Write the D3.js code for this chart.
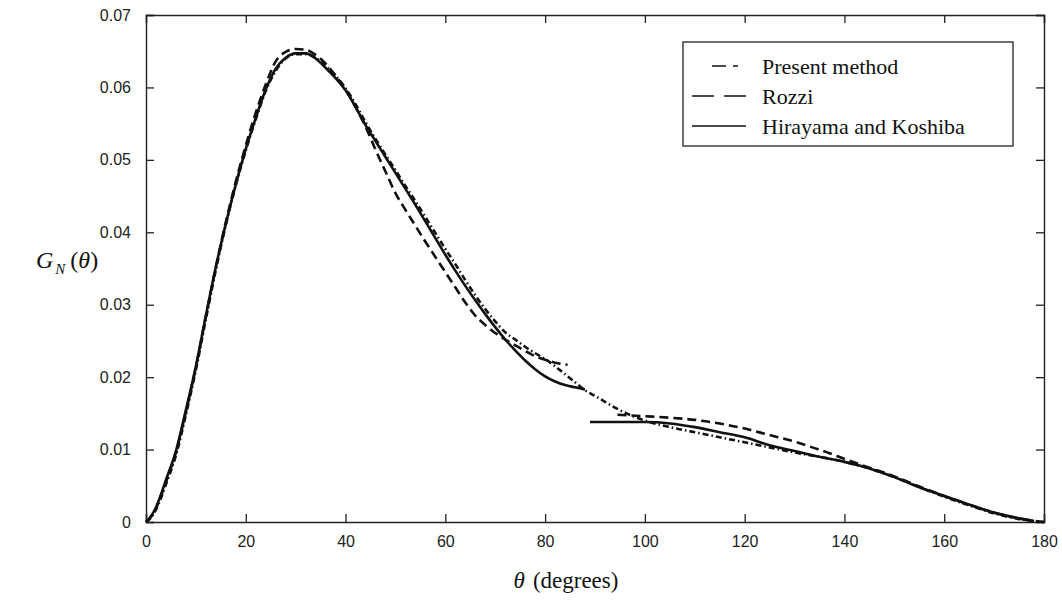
<!DOCTYPE html>
<html>
<head>
<meta charset="utf-8">
<script src="https://cdn.jsdelivr.net/npm/d3@7"></script>
<style>
    body { margin: 0; background: #fff; }
    svg { display: block; }
</style>
</head>
<body>
<div id="chart"></div>
<script>
'use strict';

// theta in degrees, G_N(theta)
const presentMethod = [
    [0, 0], [1, 0.0006], [2, 0.0017], [3, 0.0033], [4, 0.0052], [6, 0.0092],
    [8, 0.0148], [10, 0.021], [12, 0.028], [14, 0.0348], [16, 0.041], [18, 0.0465],
    [20, 0.0513], [22, 0.0556], [24, 0.0595], [26, 0.0623], [28, 0.064], [30, 0.0646],
    [32, 0.0646], [34, 0.0641], [36, 0.063], [38, 0.0616], [40, 0.0599], [42, 0.0577],
    [44, 0.0552], [46, 0.0529], [48, 0.0507], [50, 0.0486], [52, 0.0464], [54, 0.0443],
    [56, 0.0421], [58, 0.0399], [60, 0.0377], [62, 0.0356], [64, 0.0334], [66, 0.0313],
    [68, 0.0294], [70, 0.0277], [72, 0.0262], [74, 0.0252], [76, 0.0242], [78, 0.0233],
    [80, 0.0225], [82, 0.0215], [84, 0.0204], [86, 0.0193], [88, 0.0182], [90, 0.0174],
    [92, 0.0166], [94, 0.0158], [96, 0.0151], [98, 0.0145], [100, 0.014], [105, 0.0131],
    [110, 0.0124], [115, 0.0117], [120, 0.011], [125, 0.0103], [130, 0.0096], [135, 0.009],
    [140, 0.0083], [145, 0.0074], [150, 0.0062], [155, 0.0048], [160, 0.0035], [165, 0.0023],
    [170, 0.0012], [175, 0.0004], [180, 0]
];

const rozziLow = [
    [0, 0], [1, 0.0007], [2, 0.0019], [3, 0.0036], [4, 0.0055], [6, 0.0096],
    [8, 0.0152], [10, 0.0214], [12, 0.0284], [14, 0.0352], [16, 0.0414], [18, 0.047],
    [20, 0.052], [22, 0.0565], [24, 0.0604], [26, 0.0636], [28, 0.0649], [30, 0.0653],
    [32, 0.0652], [34, 0.0645], [36, 0.0633], [38, 0.0616], [40, 0.0597], [42, 0.0573],
    [44, 0.0546], [46, 0.0514], [48, 0.0484], [50, 0.0454], [52, 0.0431], [54, 0.0409],
    [56, 0.0387], [58, 0.0366], [60, 0.0345], [62, 0.0324], [64, 0.0303], [66, 0.0285],
    [68, 0.0272], [70, 0.0261], [72, 0.0252], [74, 0.0244], [76, 0.0236], [78, 0.0229],
    [80, 0.0224], [82, 0.022], [84.5, 0.0217]
];

const rozziHigh = [
    [94.5, 0.0148], [100, 0.0146], [105, 0.0144], [110, 0.0141], [115, 0.0136], [120, 0.0129],
    [125, 0.012], [130, 0.0111], [134, 0.0102], [137, 0.0095], [140, 0.0087], [145, 0.0075],
    [150, 0.0063], [155, 0.0049], [160, 0.0036], [165, 0.0024], [170, 0.0013], [175, 0.0005],
    [180, 0]
];

const hirayamaLow = [
    [0, 0], [1, 0.0008], [2, 0.002], [3, 0.0038], [4, 0.0058], [6, 0.0098],
    [8, 0.0155], [10, 0.0215], [12, 0.0285], [14, 0.0352], [16, 0.0412], [18, 0.0466],
    [20, 0.0515], [22, 0.0558], [24, 0.0597], [26, 0.0626], [28, 0.0641], [30, 0.0647],
    [32, 0.0647], [34, 0.064], [36, 0.0627], [38, 0.0613], [40, 0.0596], [42, 0.0573],
    [44, 0.0548], [46, 0.0526], [48, 0.0504], [50, 0.0482], [52, 0.046], [54, 0.0438],
    [56, 0.0415], [58, 0.0392], [60, 0.0369], [62, 0.0347], [64, 0.0326], [66, 0.0306],
    [68, 0.0287], [70, 0.0269], [72, 0.0252], [74, 0.0237], [76, 0.0223], [78, 0.0211],
    [80, 0.0201], [82, 0.0194], [84, 0.0189], [86, 0.0186], [88, 0.0183]
];

const hirayamaHigh = [
    [89, 0.0138], [95, 0.0138], [100, 0.0138], [105, 0.0136], [110, 0.0131], [115, 0.0124],
    [120, 0.0117], [125, 0.0106], [130, 0.0098], [135, 0.009], [140, 0.0083], [145, 0.0074],
    [150, 0.0062], [155, 0.0048], [160, 0.0036], [165, 0.0024], [170, 0.0013], [175, 0.0005],
    [178, 0.0001]
];

const xTicks = [0, 20, 40, 60, 80, 100, 120, 140, 160, 180];
const yTicks = [0, 0.01, 0.02, 0.03, 0.04, 0.05, 0.06, 0.07];

const legendItems = [
    { label: 'Present method', dash: '0,20,14,7,5,40' },
    { label: 'Rozzi', dash: '22,10' },
    { label: 'Hirayama and Koshiba', dash: null }
];

function buildChart() {

    const width = 1062;
    const height = 605;

    const left = 146;
    const right = 1044;
    const top = 15;
    const bottom = 522;

    const svg = d3.select('#chart')
        .append('svg')
            .attr('width', width)
            .attr('height', height)
            .style('background', '#fff');

    const x = d3.scaleLinear().domain([0, 180]).range([left, right]);
    const y = d3.scaleLinear().domain([0, 0.07]).range([bottom, top]);

    const tickFont = '"Liberation Sans", Arial, sans-serif';
    const serif = '"Liberation Serif", "Times New Roman", serif';

    // MATLAB style: ticks point inwards on all four sides
    svg.append('g')
        .attr('transform', `translate(0,${bottom})`)
        .call(d3.axisBottom(x).tickValues(xTicks).tickSize(-8).tickPadding(14).tickFormat(d3.format('d')));

    svg.append('g')
        .attr('transform', `translate(0,${top})`)
        .call(d3.axisTop(x).tickValues(xTicks).tickSize(-8).tickFormat(''));

    svg.append('g')
        .attr('transform', `translate(${left},0)`)
        .call(d3.axisLeft(y).tickValues(yTicks).tickSize(-8).tickPadding(15)
            .tickFormat(d => d === 0 ? '0' : d3.format('.2f')(d)));

    svg.append('g')
        .attr('transform', `translate(${right},0)`)
        .call(d3.axisRight(y).tickValues(yTicks).tickSize(-8).tickFormat(''));

    svg.selectAll('.domain').attr('stroke', '#222').attr('stroke-width', 1.4);
    svg.selectAll('.tick line').attr('stroke', '#222').attr('stroke-width', 1.3);
    svg.selectAll('.tick text')
        .attr('fill', '#222')
        .attr('font-family', tickFont)
        .attr('font-size', 16);

    const line = d3.line()
        .x(d => x(d[0]))
        .y(d => y(d[1]))
        .curve(d3.curveMonotoneX);

    const curves = [
        { data: hirayamaLow, dash: null },
        { data: hirayamaHigh, dash: null },
        { data: rozziLow, dash: '9,5' },
        { data: rozziHigh, dash: '9,5' },
        { data: presentMethod, dash: '6,3,1.5,3' }
    ];

    svg.append('g')
        .selectAll('path')
        .data(curves)
        .enter()
        .append('path')
            .attr('fill', 'none')
            .attr('stroke', '#111')
            .attr('stroke-width', 2.6)
            .attr('stroke-dasharray', d => d.dash)
            .attr('d', d => line(d.data));

    // legend
    const legend = svg.append('g');

    legend.append('rect')
        .attr('x', 683)
        .attr('y', 42)
        .attr('width', 330)
        .attr('height', 104)
        .attr('fill', '#fff')
        .attr('stroke', '#222')
        .attr('stroke-width', 1.3);

    const legendItem = legend.selectAll('g')
        .data(legendItems)
        .enter()
            .append('g')
            .attr('transform', (d, i) => `translate(692, ${66 + 30 * i})`);

    legendItem.append('line')
        .attr('x1', 0)
        .attr('x2', 54)
        .attr('stroke', '#111')
        .attr('stroke-width', 1.5)
        .attr('stroke-dasharray', d => d.dash);

    legendItem.append('text')
        .attr('x', 70)
        .attr('dy', '0.35em')
        .attr('font-family', serif)
        .attr('font-size', 22)
        .attr('fill', '#111')
        .text(d => d.label);

    // axis titles
    const yTitle = svg.append('text')
        .attr('x', 36)
        .attr('y', 268)
        .attr('font-family', serif)
        .attr('font-size', 24)
        .attr('fill', '#111');
    yTitle.append('tspan').attr('font-style', 'italic').text('G');
    yTitle.append('tspan').attr('font-style', 'italic').attr('font-size', 15).attr('dy', 6).attr('dx', 2).text('N');
    yTitle.append('tspan').attr('dy', -6).attr('dx', 5).text('(');
    yTitle.append('tspan').attr('font-style', 'italic').text('θ');
    yTitle.append('tspan').text(')');

    const xTitle = svg.append('text')
        .attr('x', 566)
        .attr('y', 588)
        .attr('text-anchor', 'middle')
        .attr('font-family', serif)
        .attr('font-size', 23)
        .attr('fill', '#111');
    xTitle.append('tspan').attr('font-style', 'italic').text('θ');
    xTitle.append('tspan').attr('dx', 8).text('(degrees)');
}

window.addEventListener('DOMContentLoaded', () => {
    buildChart();
});
</script>
</body>
</html>
